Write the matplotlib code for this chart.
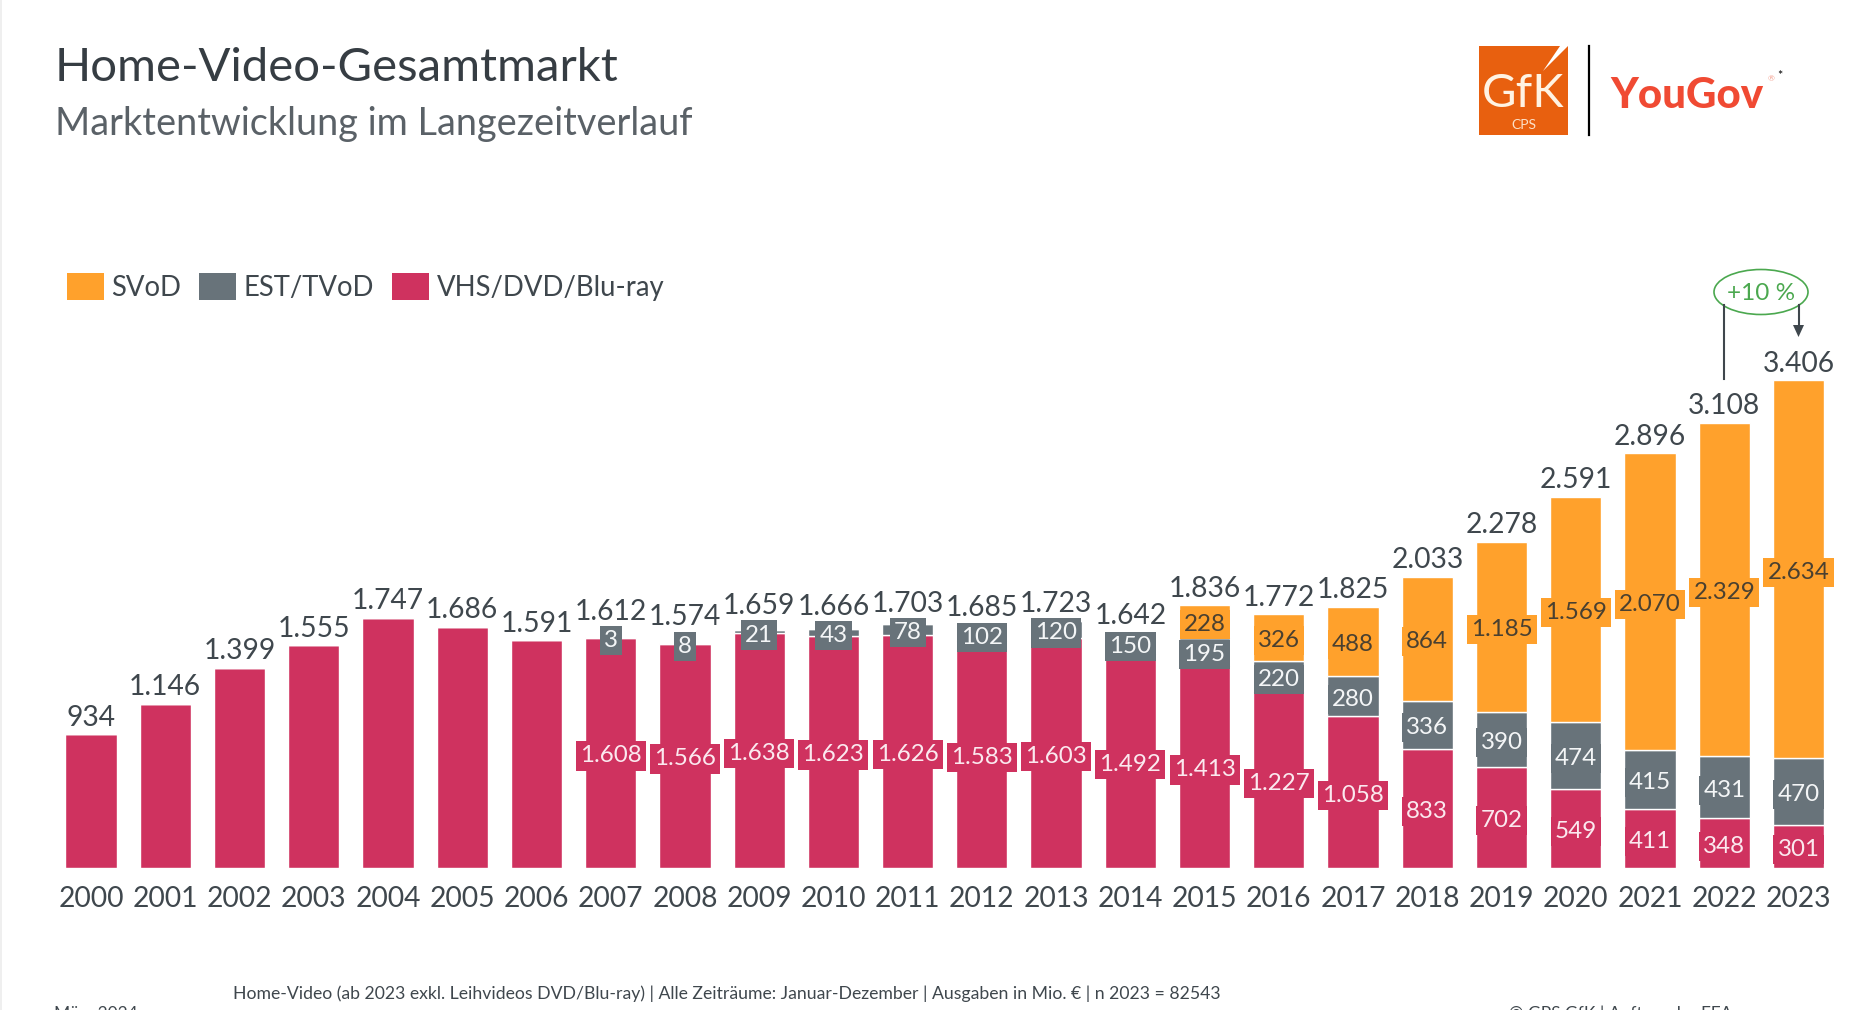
import matplotlib
matplotlib.use("Agg")
import matplotlib.pyplot as plt
from matplotlib.patches import Patch, Ellipse, Rectangle, Polygon
from matplotlib.lines import Line2D

years = [str(y) for y in range(2000, 2024)]
vhs = [934, 1146, 1399, 1555, 1747, 1686, 1591, 1608, 1566, 1638, 1623, 1626,
       1583, 1603, 1492, 1413, 1227, 1058, 833, 702, 549, 411, 348, 301]
est = [0, 0, 0, 0, 0, 0, 0, 3, 8, 21, 43, 78, 102, 120, 150, 195, 220, 280,
       336, 390, 474, 415, 431, 470]
svod = [0, 0, 0, 0, 0, 0, 0, 0, 0, 0, 0, 0, 0, 0, 0, 228, 326, 488, 864, 1185,
        1569, 2070, 2329, 2634]
totals = [934, 1146, 1399, 1555, 1747, 1686, 1591, 1612, 1574, 1659, 1666, 1703,
          1685, 1723, 1642, 1836, 1772, 1825, 2033, 2278, 2591, 2896, 3108, 3406]
legend_labels = ["SVoD", "EST/TVoD", "VHS/DVD/Blu-ray"]
growth_label = "+10 %"
title = "Home-Video-Gesamtmarkt"
subtitle = "Marktentwicklung im Langezeitverlauf"
source = ("Home-Video (ab 2023 exkl. Leihvideos DVD/Blu-ray) | Alle Zeiträume: "
          "Januar-Dezember | Ausgaben in Mio. € | n 2023 = 82543")

ORANGE, GREY, RED = "#FFA12C", "#68737A", "#CF325F"
DARK = "#3F474D"
GREEN = "#4BA84F"
W, H = 1873, 1010

plt.rcParams["font.family"] = ["Lato", "DejaVu Sans"]
fig = plt.figure(figsize=(W / 100, H / 100), dpi=100)


def fx(px):
    return px / W


def fy(py):
    return 1 - py / H


def de(v):
    return f"{v:,}".replace(",", ".")


# plot area: x=0 at px 91, x=23 at px 1798.5; y=0 at px 868, 0.1432 px per unit
step = (1798.5 - 91) / 23
left, right = 91 - step / 2, 1798.5 + step / 2
ymax = 3600
scale = 0.1432
ax = fig.add_axes([fx(left), fy(868), (right - left) / W, ymax * scale / H])
ax.set_xlim(-0.5, 23.5)
ax.set_ylim(0, ymax)
ax.patch.set_alpha(0)
for s in ax.spines.values():
    s.set_visible(False)
ax.set_yticks([])
xs = list(range(len(years)))
ax.set_xticks(xs, years)
ax.tick_params(axis="x", length=0, pad=12.7, labelsize=20.3, labelcolor=DARK)

bw = 0.69
bottom_est = vhs
bottom_svod = [a + b for a, b in zip(vhs, est)]
ax.bar(xs, vhs, bw, color=RED, edgecolor="white", linewidth=1, zorder=2)
ax.bar(xs, est, bw, bottom=bottom_est, color=GREY, edgecolor="white", linewidth=1, zorder=2)
ax.bar(xs, svod, bw, bottom=bottom_svod, color=ORANGE, edgecolor="white", linewidth=1, zorder=2)


def seg_label(x, y, v, bg, fg):
    ax.annotate(de(v), (x, y), xytext=(0, -0.8), textcoords="offset points",
                ha="center", va="center_baseline", fontsize=17.4,
                color=fg, zorder=5,
                bbox=dict(boxstyle="square,pad=0.17", fc=bg, ec="none"))


for i in xs:
    if est[i] or svod[i]:
        seg_label(i, vhs[i] / 2, vhs[i], RED, "#FBE9EF")
    if est[i]:
        seg_label(i, vhs[i] + est[i] / 2, est[i], GREY, "#F4F6F7")
    if svod[i]:
        seg_label(i, bottom_svod[i] + svod[i] / 2, svod[i], ORANGE, "#4A4030")
    # total label: just above the stack, or clear of the small grey box
    stack_top = (vhs[i] + est[i] + svod[i]) * scale
    lift = stack_top + 8.5
    if est[i]:
        lift = max(lift, (vhs[i] + est[i] / 2) * scale + 14.5 + 3.5)
    ax.annotate(de(totals[i]), (i, lift / scale), ha="center", va="baseline",
                fontsize=20.3, color=DARK, zorder=6)

# growth callout
for x, y_top_px, y_bot_px in [(22, 305, 379), (23, 305, 328)]:
    px = left + (x + 0.5) * step
    fig.add_artist(Line2D([fx(px), fx(px)], [fy(y_top_px), fy(y_bot_px)], color=DARK, lw=1.5))
px = left + 23.5 * step
fig.add_artist(Polygon([(fx(px - 5.5), fy(325)), (fx(px + 5.5), fy(325)), (fx(px), fy(337))],
                       closed=True, fc=DARK, ec="none", transform=fig.transFigure))
fig.add_artist(Ellipse((fx(1761), fy(292)), 94 / W, 45 / H, fc="white", ec=GREEN, lw=1.2,
                       transform=fig.transFigure))
fig.text(fx(1761), fy(292), growth_label, ha="center", va="center_baseline", fontsize=17.5, color=GREEN)

# title
fig.text(fx(55), fy(81), title, fontsize=34, color="#363D43", va="baseline")
fig.text(fx(55), fy(135), subtitle, fontsize=27.3, color="#5A6167", va="baseline")

# legend
handles = [Patch(fc=c, ec="none") for c in (ORANGE, GREY, RED)]
fig.legend(handles, legend_labels, ncol=3, loc="upper left",
           bbox_to_anchor=(fx(66.5), fy(273)), frameon=False, fontsize=19.8, labelcolor=DARK,
           handlelength=1.35, handleheight=1.13, handletextpad=0.28, columnspacing=0.64,
           borderpad=0, borderaxespad=0)

# footer
fig.text(fx(233), fy(999), source, fontsize=12.7, color=DARK, va="baseline")
fig.text(fx(54), fy(1019), "März 2024", fontsize=12.5, color=DARK, va="baseline")
fig.text(fx(1509), fy(1019), "© GPS GfK | Auftrag der FFA", fontsize=12.5, color=DARK, va="baseline")

# left page edge
fig.add_artist(Rectangle((0, 0), 2 / W, 1, fc="#EFEFEF", ec="none", transform=fig.transFigure))

# logos
fig.add_artist(Rectangle((fx(1479), fy(135)), 89 / W, 89 / H, fc="#E8600F", ec="none",
                         transform=fig.transFigure))
fig.add_artist(Polygon([(fx(1568), fy(46)), (fx(1560), fy(46)), (fx(1543), fy(71))], closed=True,
                       fc="white", ec="none", transform=fig.transFigure))
fig.text(fx(1523), fy(107), "GfK", fontsize=34, color="#FFF3E3", ha="center", va="baseline")
fig.text(fx(1524), fy(129), "CPS", fontsize=10, color="#FCE0C8", ha="center", va="baseline")
fig.add_artist(Line2D([fx(1589), fx(1589)], [fy(46), fy(135)], color="black", lw=1.6))
fig.text(fx(1610), fy(108), "YouGov", fontsize=30.3, color="#F04A33", fontweight="black", va="baseline")
fig.text(fx(1771), fy(79), "®", fontsize=6, color="#F4A08F", ha="center", va="center")
fig.text(fx(1780), fy(76), "*", fontsize=9, color="black", ha="center", va="center")

fig.savefig("out.png", dpi=100)
